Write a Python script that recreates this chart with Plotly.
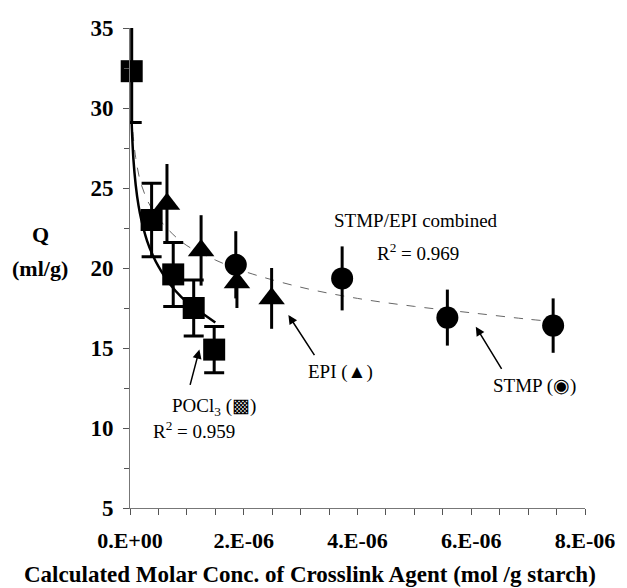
import plotly.graph_objects as go

# ---- data (x in mol/g starch, y = Q in ml/g) ----
pocl3_x = [0.03e-6, 0.38e-6, 0.76e-6, 1.12e-6, 1.48e-6]
pocl3_y = [32.3, 23.0, 19.6, 17.5, 14.9]
pocl3_err = [3.2, 2.3, 2.0, 1.75, 1.45]

epi_x = [0.65e-6, 1.25e-6, 1.88e-6, 2.49e-6]
epi_y = [24.0, 21.1, 19.1, 18.1]
epi_err = [2.5, 2.2, 1.6, 1.9]

stmp_x = [1.86e-6, 3.73e-6, 5.58e-6, 7.44e-6]
stmp_y = [20.2, 19.35, 16.9, 16.4]
stmp_err = [2.1, 2.0, 1.75, 1.7]

# trend lines
pocl3_fit_x = [0.03e-6, 0.06e-6, 0.1e-6, 0.15e-6, 0.2e-6, 0.3e-6, 0.4e-6, 0.5e-6,
               0.7e-6, 0.9e-6, 1.1e-6, 1.3e-6, 1.5e-6]
pocl3_fit_y = [29.0, 26.8, 25.2, 23.9, 23.0, 21.7, 20.8, 20.1, 19.0, 18.2, 17.6, 17.1, 16.6]

comb_fit_x = [0.05e-6, 0.1e-6, 0.2e-6, 0.4e-6, 0.7e-6, 1.0e-6, 1.5e-6, 2.0e-6, 3.0e-6,
              4.0e-6, 5.0e-6, 6.0e-6, 7.0e-6, 7.45e-6]
comb_fit_y = [28.5, 26.9, 25.2, 23.6, 22.3, 21.4, 20.5, 19.8, 18.8, 18.1, 17.6, 17.2, 16.8, 16.65]

x_tickvals = [0, 2e-6, 4e-6, 6e-6, 8e-6]
x_ticktext = ["0.E+00", "2.E-06", "4.E-06", "6.E-06", "8.E-06"]
y_tickvals = [5, 10, 15, 20, 25, 30, 35]

SERIF = "Liberation Serif"

fig = go.Figure()

fig.add_trace(go.Scatter(x=comb_fit_x, y=comb_fit_y, mode="lines", line_shape="spline",
                         line=dict(color="#666666", width=1, dash="dash"), hoverinfo="skip",
                         cliponaxis=False))
fig.add_trace(go.Scatter(x=pocl3_fit_x, y=pocl3_fit_y, mode="lines", line_shape="spline",
                         line=dict(color="black", width=2.5), hoverinfo="skip", cliponaxis=False))

fig.add_trace(go.Scatter(x=pocl3_x, y=pocl3_y, mode="markers", cliponaxis=False,
                         marker=dict(symbol="square", size=22, color="black"),
                         error_y=dict(type="data", array=pocl3_err, color="black", thickness=3, width=10)))
fig.add_trace(go.Scatter(x=epi_x, y=epi_y, mode="markers", cliponaxis=False,
                         marker=dict(symbol="triangle-up", size=23, color="black"),
                         error_y=dict(type="data", array=epi_err, color="black", thickness=3, width=0)))
fig.add_trace(go.Scatter(x=stmp_x, y=stmp_y, mode="markers", cliponaxis=False,
                         marker=dict(symbol="circle", size=22, color="black"),
                         error_y=dict(type="data", array=stmp_err, color="black", thickness=3, width=0)))

txt = dict(family=SERIF, size=19, color="black")
anns = [
    dict(x=5.03e-6, y=23.0, text="STMP/EPI combined"),
    dict(x=5.07e-6, y=21.0, text="R<sup>2</sup> = 0.969"),
    dict(x=3.70e-6, y=13.5, text="EPI (▲)"),
    dict(x=7.11e-6, y=12.6, text="STMP (◉)"),
    dict(x=1.47e-6, y=11.3, text="POCl<sub>3</sub> (▩)"),
    dict(x=1.12e-6, y=9.9, text="R<sup>2</sup> = 0.959"),
]
for a in anns:
    fig.add_annotation(xref="x", yref="y", showarrow=False, font=txt,
                       xanchor="center", yanchor="middle", **a)

arrows = [
    (2.785e-6, 17.06, 3.26e-6, 14.46),
    (6.08e-6, 16.33, 6.55e-6, 13.6),
    (1.22e-6, 14.9, 1.05e-6, 12.6),
]
for hx, hy, tx, ty in arrows:
    fig.add_annotation(x=hx, y=hy, ax=tx, ay=ty, xref="x", yref="y", axref="x", ayref="y",
                       text="", showarrow=True, arrowhead=2, arrowsize=1.2, arrowwidth=1.5,
                       arrowcolor="black")

bold = dict(family=SERIF, size=22, color="black", weight="bold")
fig.add_annotation(xref="paper", yref="paper", x=-0.197, y=0.57, text="Q", showarrow=False,
                   xanchor="center", yanchor="middle", font=bold)
fig.add_annotation(xref="paper", yref="paper", x=-0.197, y=0.5, text="(ml/g)", showarrow=False,
                   xanchor="center", yanchor="middle", font=bold)
fig.add_annotation(xref="paper", yref="paper", x=0.395, y=-0.138, xanchor="center", yanchor="middle",
                   text="Calculated Molar Conc. of Crosslink Agent (mol /g starch)",
                   showarrow=False, font=dict(family=SERIF, size=23, color="black", weight="bold"))

fig.update_layout(
    width=627, height=588,
    margin=dict(l=130, r=39, t=28, b=80),
    paper_bgcolor="white", plot_bgcolor="white",
    showlegend=False,
    xaxis=dict(range=[0, 8e-6], tickmode="array", tickvals=x_tickvals, ticktext=x_ticktext,
               showgrid=False, zeroline=False, showline=True, linecolor="#777777", linewidth=1,
               ticks="outside", ticklen=6, tickcolor="#555555", ticklabelstandoff=7,
               minor=dict(dtick=0.5e-6, ticks="outside", ticklen=6, tickcolor="#555555"),
               tickfont=dict(family=SERIF, size=22, color="black", weight="bold")),
    yaxis=dict(range=[5, 35], tickmode="array", tickvals=y_tickvals,
               showgrid=False, zeroline=False, showline=True, linecolor="#777777", linewidth=1,
               ticks="outside", ticklen=6, tickcolor="#555555", ticklabelstandoff=5,
               minor=dict(dtick=2.5, ticks="outside", ticklen=5, tickcolor="#555555"),
               tickfont=dict(family=SERIF, size=23, color="black", weight="bold")),
)

fig.write_html("out.html")
